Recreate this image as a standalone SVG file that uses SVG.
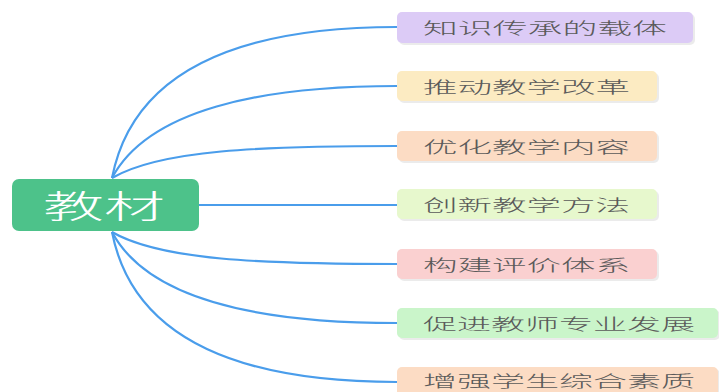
<svg xmlns="http://www.w3.org/2000/svg" width="719" height="392" viewBox="0 0 719 392">
<style>
.c{fill:none;stroke:#4A9DEB;stroke-width:2.2}
.n{stroke:none}
.sh{fill:#000;opacity:0.08}
.t{font-family:"Noto Sans CJK SC","Noto Sans",sans-serif;font-size:16px;font-weight:300;fill:#5a5a5a}
.root{font-family:"Noto Sans CJK SC","Noto Sans",sans-serif;font-size:32px;font-weight:300;fill:#fff}
</style>
<rect width="719" height="392" fill="#fff"/>
<g id="connectors">
<path class="c" d="M112,178 C135,60 260,27 397,27"/>
<path class="c" d="M112,178 C148,110 260,86 397,86"/>
<path class="c" d="M112,178 C160,150 260,146 397,146"/>
<path class="c" d="M199,205 L397,205"/>
<path class="c" d="M112,232 C160,260 260,264 397,264"/>
<path class="c" d="M112,232 C148,300 260,323 397,323"/>
<path class="c" d="M112,232 C135,350 260,382 397,382"/>
</g>
<g id="root">
<rect x="12" y="179" width="187" height="52" rx="7" fill="#4DC28A"/>
<text class="root" x="43" y="218" textLength="122" lengthAdjust="spacingAndGlyphs">教材</text>
</g>
<g id="n1">
<rect class="sh" x="399" y="14" width="296" height="31" rx="5"/>
<rect class="n" x="397" y="12" width="296" height="31" rx="5" fill="#DCCBF6"/>
<text class="t" x="423" y="34" textLength="244" lengthAdjust="spacingAndGlyphs">知识传承的载体</text>
</g>
<g id="n2">
<rect class="sh" x="399" y="73" width="260" height="30" rx="5"/>
<rect class="n" x="397" y="71" width="260" height="30" rx="5" fill="#FCEBC2"/>
<text class="t" x="423" y="93" textLength="207" lengthAdjust="spacingAndGlyphs">推动教学改革</text>
</g>
<g id="n3">
<rect class="sh" x="399" y="133" width="260" height="30" rx="5"/>
<rect class="n" x="397" y="131" width="260" height="30" rx="5" fill="#FCDCC4"/>
<text class="t" x="423" y="153" textLength="207" lengthAdjust="spacingAndGlyphs">优化教学内容</text>
</g>
<g id="n4">
<rect class="sh" x="399" y="191" width="260" height="30" rx="5"/>
<rect class="n" x="397" y="189" width="260" height="30" rx="5" fill="#E7F8CD"/>
<text class="t" x="423" y="211" textLength="207" lengthAdjust="spacingAndGlyphs">创新教学方法</text>
</g>
<g id="n5">
<rect class="sh" x="399" y="251" width="260" height="30" rx="5"/>
<rect class="n" x="397" y="249" width="260" height="30" rx="5" fill="#FAD0D0"/>
<text class="t" x="423" y="271" textLength="207" lengthAdjust="spacingAndGlyphs">构建评价体系</text>
</g>
<g id="n6">
<rect class="sh" x="399" y="310" width="321" height="30" rx="5"/>
<rect class="n" x="397" y="308" width="321" height="30" rx="5" fill="#CAF5CA"/>
<text class="t" x="423" y="330" textLength="272" lengthAdjust="spacingAndGlyphs">促进教师专业发展</text>
</g>
<g id="n7">
<rect class="sh" x="399" y="369" width="321" height="30" rx="5"/>
<rect class="n" x="397" y="367" width="321" height="30" rx="5" fill="#FCDCC4"/>
<text class="t" x="423" y="387" textLength="272" lengthAdjust="spacingAndGlyphs">增强学生综合素质</text>
</g>
</svg>
